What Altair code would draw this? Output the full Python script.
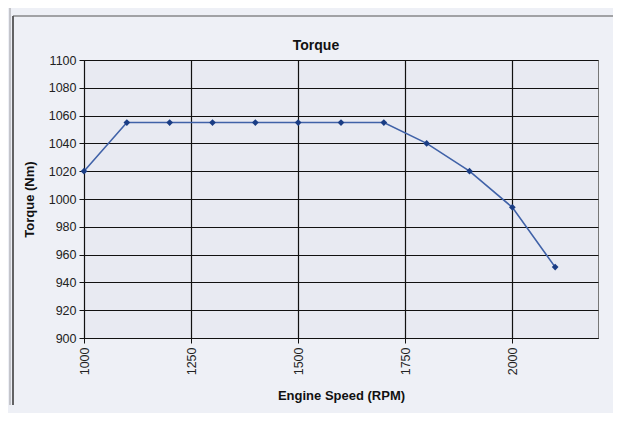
import altair as alt
import pandas as pd

rpm = [1000, 1100, 1200, 1300, 1400, 1500, 1600, 1700, 1800, 1900, 2000, 2100]
torque = [1020, 1055, 1055, 1055, 1055, 1055, 1055, 1055, 1040, 1020, 994, 951]
x_ticks = [1000, 1250, 1500, 1750, 2000]
y_ticks = list(range(900, 1101, 20))

df = pd.DataFrame({"rpm": rpm, "torque": torque})
one = pd.DataFrame({"a": [0]})

x = alt.X("rpm:Q", scale=alt.Scale(domain=[1000, 2200], nice=False, zero=False),
          axis=alt.Axis(title="Engine Speed (RPM)", values=x_ticks, format="d", labelAngle=270,
                        labelAlign="right", labelBaseline="middle", labelPadding=4,
                        tickSize=5, grid=True, gridColor="#111111", gridWidth=1.2,
                        domainColor="#111111", tickColor="#111111",
                        titleX=257, titleY=57, titleBaseline="middle"))
y = alt.Y("torque:Q", scale=alt.Scale(domain=[900, 1100], nice=False, zero=False),
          axis=alt.Axis(title="Torque (Nm)", values=y_ticks, format="d", tickSize=5, labelPadding=3,
                        grid=True, gridColor="#111111", gridWidth=1,
                        domainColor="#111111", tickColor="#111111",
                        titleAngle=270, titleX=-55, titleY=139,
                        titleAlign="center", titleBaseline="middle"))

line = alt.Chart(df).mark_line(color="#4062a8", strokeWidth=1.6).encode(x=x, y=y)
pts = alt.Chart(df).mark_point(shape="diamond", filled=True, size=45,
                               color="#1a3d85", opacity=1).encode(x=x, y=y)

# decorative frame of the screenshot
frame_grey = alt.Chart(one).mark_rule(color="#9a9aa0", strokeWidth=1).encode(
    x=alt.value(-74), y=alt.value(-52), y2=alt.value(345))
frame_dark_v = alt.Chart(one).mark_rule(color="#333333", strokeWidth=1.5).encode(
    x=alt.value(-71), y=alt.value(-44), y2=alt.value(345))
frame_dark_h = alt.Chart(one).mark_rule(color="#555555", strokeWidth=1.2).encode(
    x=alt.value(-71), x2=alt.value(529), y=alt.value(-44))

chart = alt.layer(frame_grey, frame_dark_v, frame_dark_h, line, pts).properties(
    width=514, height=278,
    title=alt.TitleParams("Torque", fontSize=14, fontWeight="bold", dx=-25, offset=-45,
                          frame="group", anchor="middle",
                          font="Liberation Sans", color="#111111"),
    autosize=alt.AutoSizeParams(type="none"),
    padding={"left": 76, "top": 52, "right": 15, "bottom": 75},
    background="#eef0f6",
).configure_view(stroke="#777777", strokeWidth=1, fill="#e8eaf2").configure_axis(
    labelFont="Liberation Sans", labelFontSize=12.5, labelColor="#222222",
    titleFont="Liberation Sans", titleFontSize=13, titleFontWeight="bold", titleColor="#111111",
)

chart.save("out.html", embed_options={"renderer": "svg", "actions": False})
